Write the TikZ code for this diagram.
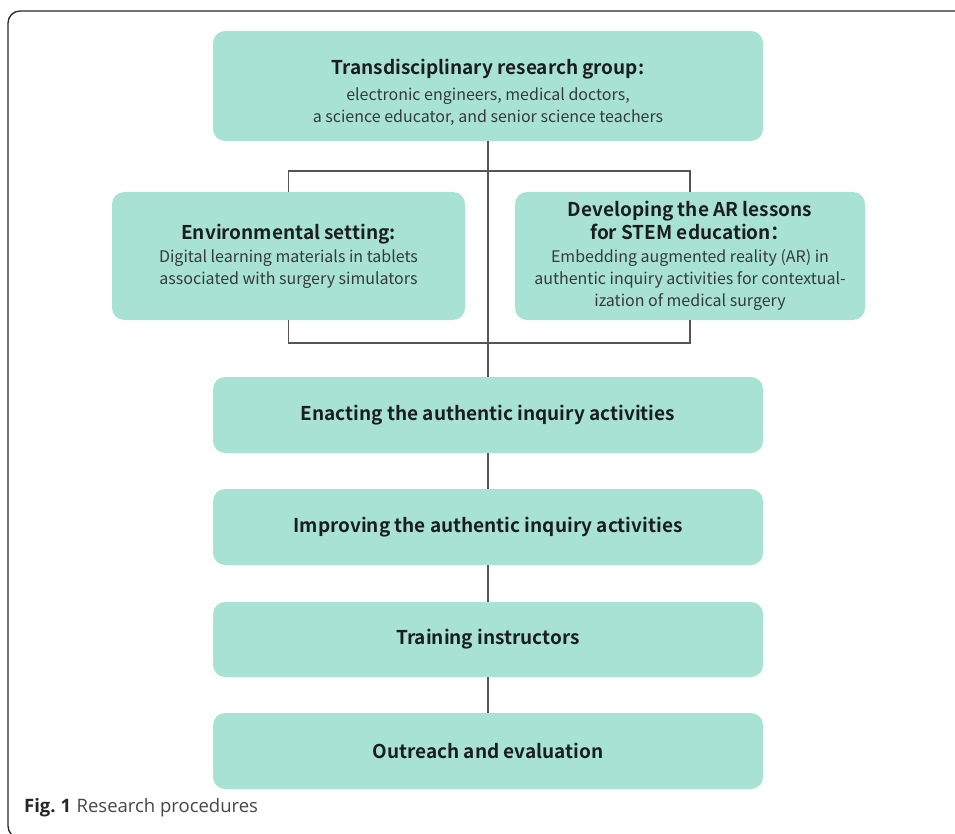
\documentclass[tikz,border=0pt]{standalone}
\usepackage{fontspec}
\newfontfamily\boxfont{Noto Sans CJK SC}[BoldFont={Noto Sans CJK SC Bold}]
\newfontfamily\capfont{Open Sans}
\definecolor{boxfill}{RGB}{168,226,212}
\definecolor{linecol}{RGB}{85,85,85}
\definecolor{titlecol}{RGB}{26,30,30}
\definecolor{bodycol}{RGB}{55,58,58}
\definecolor{framecol}{RGB}{40,40,40}
\tikzset{
  stage/.style={fill=boxfill, draw=none, rounded corners=12pt, align=center,
    inner sep=0pt, font=\boxfont\fontsize{16}{22}\selectfont, text=titlecol},
  wide/.style={stage, minimum width=550pt},
  plaintext/.style={align=center, inner sep=0pt, font=\boxfont\fontsize{16}{22}\selectfont, text=titlecol},
  link/.style={draw=linecol, line width=1.1pt},
}
\newcommand{\ttl}[1]{{\fontsize{19}{22}\selectfont\bfseries #1}}
\newcommand{\bdy}[1]{{\color{bodycol}#1}}
\begin{document}
\begin{tikzpicture}[x=1pt,y=-1pt]
\useasboundingbox (0,0) rectangle (955,834);
\begin{scope}
\clip (0,0) rectangle (955,834);
\draw[framecol, line width=1.3pt, rounded corners=12pt] (8,11) rectangle (975,838);
\end{scope}

\node[wide, minimum height=110pt] (top) at (488,86) {};
\node[plaintext] (toptext) at (488,92)
  {\ttl{Transdisciplinary research group:}\\[4pt]
   \bdy{electronic engineers, medical doctors,}\\
   \bdy{a science educator, and senior science teachers}};

\node[stage, minimum width=353pt, minimum height=128pt] (lft) at (288.5,256)
  {\ttl{Environmental setting:}\\[1pt]
   \bdy{Digital learning materials in tablets}\\
   \bdy{associated with surgery simulators}};

\node[stage, minimum width=350pt, minimum height=128pt] (rgt) at (690,256)
  {\ttl{Developing the AR lessons}\\[1pt]
   \ttl{for STEM education：}\\[1pt]
   \bdy{Embedding augmented reality (AR) in}\\
   \bdy{authentic inquiry activities for contextual-}\\
   \bdy{ization of medical surgery}};

\node[wide, minimum height=76pt] (enact) at (488,415)
  {\ttl{Enacting the authentic inquiry activities}};
\node[wide, minimum height=76pt] (improv) at (488,527)
  {\ttl{Improving the authentic inquiry activities}};
\node[wide, minimum height=75pt] (train) at (488,639.5)
  {\ttl{Training instructors}};
\node[wide, minimum height=76pt] (outr) at (488,751)
  {\ttl{Outreach and evaluation}};

\coordinate (btop) at (0,171);
\coordinate (bbot) at (0,343);

\draw[link] (top.south) -- (enact.north);
\draw[link] (lft.north) -- (lft.north |- btop) -- (rgt.north |- btop) -- (rgt.north);
\draw[link] (lft.south) -- (lft.south |- bbot) -- (rgt.south |- bbot) -- (rgt.south);
\draw[link] (enact) -- (improv);
\draw[link] (improv) -- (train);
\draw[link] (train) -- (outr);

\node[anchor=west, inner sep=0pt, font=\capfont\fontsize{18.5}{20}\selectfont] (cap) at (24,808)
  {{\bfseries\color{black!85}Fig.~1}\hspace{0.3em}{\color{black!72}Research procedures}};
\end{tikzpicture}
\end{document}
